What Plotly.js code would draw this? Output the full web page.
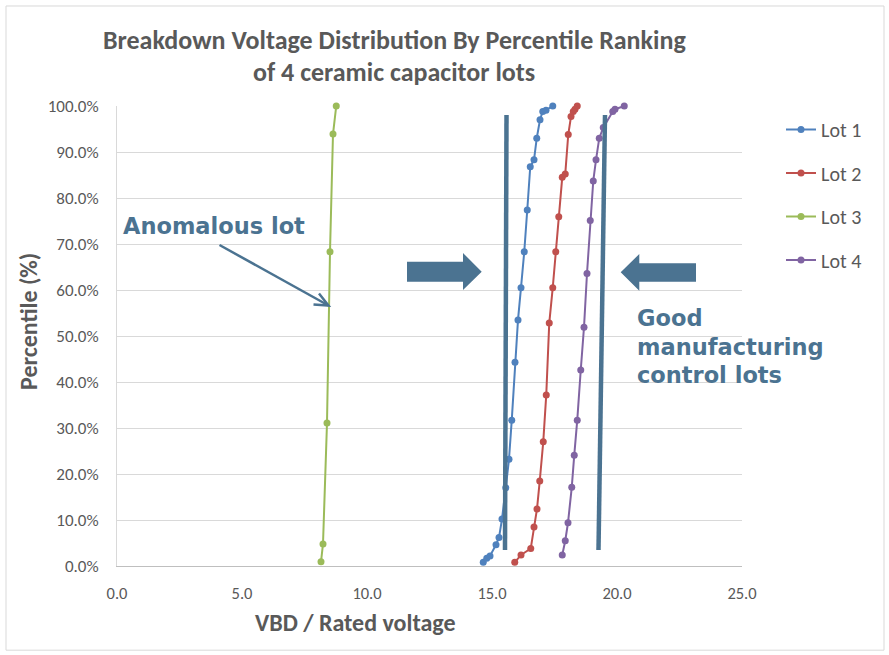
<!DOCTYPE html>
<html>
<head>
<meta charset="utf-8">
<script src="https://cdn.plot.ly/plotly-3.0.1.min.js"></script>
<style>html,body{margin:0;padding:0;background:#fff;}#chart{width:889px;height:655px;}</style>
</head>
<body>
<div id="chart"></div>
<script>
// ---- data (x = VBD / rated voltage, y = percentile %) ----
const seriesNames = ["Lot 1", "Lot 2", "Lot 3", "Lot 4"];
const lot1X = [14.65,14.79,14.92,15.16,15.28,15.40,15.55,15.68,15.79,15.92,16.04,16.16,16.29,16.41,16.53,16.68,16.79,16.92,17.03,17.16,17.43];
const lot1Y = [0.8,1.7,2.2,4.6,6.2,10.2,17.0,23.2,31.7,44.3,53.5,60.5,68.3,77.4,86.8,88.3,93.0,97.0,98.8,99.1,100];
const lot2X = [15.91,16.16,16.55,16.68,16.80,16.91,17.05,17.17,17.29,17.43,17.55,17.67,17.81,17.93,18.05,18.16,18.25,18.32,18.41];
const lot2Y = [0.8,2.4,3.8,8.5,12.4,18.5,27.0,37.2,52.8,60.5,68.3,75.9,84.5,85.2,93.8,97.7,98.8,99.3,100];
const lot3X = [8.16,8.24,8.40,8.52,8.64,8.77];
const lot3Y = [0.9,4.8,31.1,68.3,93.9,100];
const lot4X = [17.81,17.93,18.04,18.19,18.29,18.41,18.55,18.68,18.80,18.93,19.05,19.16,19.29,19.45,19.83,19.92,20.29];
const lot4Y = [2.4,5.5,9.4,17.1,24.1,31.7,42.6,51.9,63.6,75.1,83.7,88.3,93.0,95.3,98.8,99.3,100];
const xTicks = [0,5,10,15,20,25];
const xTickLabels = ["0.0","5.0","10.0","15.0","20.0","25.0"];
const yTicks = [0,10,20,30,40,50,60,70,80,90,100];
const yTickLabels = ["0.0%","10.0%","20.0%","30.0%","40.0%","50.0%","60.0%","70.0%","80.0%","90.0%","100.0%"];

const colors = ["#4F81BD", "#C0504D", "#9BBB59", "#8064A2"];
const xs = [lot1X, lot2X, lot3X, lot4X];
const ys = [lot1Y, lot2Y, lot3Y, lot4Y];

const FONT = "Calibri, Lato, 'Liberation Sans', sans-serif";
const NOTE = "#4B7391";

const traces = seriesNames.map((n, i) => ({
  type: "scatter", mode: "lines+markers", name: n,
  x: xs[i], y: ys[i], legendgroup: "g" + i,
  line: {color: colors[i], width: 2},
  marker: {color: colors[i], size: 7},
  cliponaxis: false
}));

// helpers converting pixel positions of the decorations to axis units
const px = v => (v - 117) / 25;
const py = v => (566 - v) / 4.6;

function path(pts) {
  return "M" + pts.map(p => px(p[0]) + "," + py(p[1])).join(" L") + " Z";
}

const shapes = [
  {type: "rect", xref: "paper", yref: "paper", x0: -0.1776, x1: 1.2272, y0: -0.183, y1: 1.2174,
   line: {color: "#d9d9d9", width: 1}, layer: "below"},
  {type: "line", xref: "x", yref: "y", x0: px(506.5), y0: py(115), x1: px(505), y1: py(550),
   line: {color: NOTE, width: 4.5}},
  {type: "line", xref: "x", yref: "y", x0: px(605), y0: py(115), x1: px(598.5), y1: py(550),
   line: {color: NOTE, width: 4.5}},
  {type: "path", xref: "x", yref: "y",
   path: path([[407,261.7],[463,261.7],[463,253],[481.7,271.7],[463,290],[463,281.7],[407,281.7]]),
   fillcolor: NOTE, line: {width: 0}},
  {type: "path", xref: "x", yref: "y",
   path: path([[696,263.3],[639.3,263.3],[639.3,254],[620.7,272.3],[639.3,290.7],[639.3,281.7],[696,281.7]]),
   fillcolor: NOTE, line: {width: 0}},
  {type: "line", xref: "x", yref: "y", x0: px(219.5), y0: py(245), x1: px(328.5), y1: py(305.5),
   line: {color: NOTE, width: 2.5}},
  {type: "path", xref: "x", yref: "y",
   path: "M" + px(313.5) + "," + py(304.5) + " L" + px(328.5) + "," + py(305.5) + " L" + px(319) + "," + py(293.5),
   line: {color: NOTE, width: 2.5}}
];

const annotations = [
  {xref: "paper", yref: "paper", x: (394 - 117) / 625, y: (566 - 40) / 460, text: "Breakdown Voltage Distribution By Percentile Ranking",
   showarrow: false, xanchor: "center", yanchor: "middle", font: {family: FONT, size: 26, color: "#595959", weight: "bold"}},
  {xref: "paper", yref: "paper", x: (394 - 117) / 625, y: (566 - 72) / 460, text: "of 4 ceramic capacitor lots",
   showarrow: false, xanchor: "center", yanchor: "middle", font: {family: FONT, size: 26, color: "#595959", weight: "bold"}},
  {xref: "paper", yref: "paper", x: (355 - 117) / 625, y: (566 - 622) / 460, text: "VBD / Rated voltage",
   showarrow: false, xanchor: "center", yanchor: "middle", font: {family: FONT, size: 24, color: "#595959", weight: "bold"}},
  {xref: "paper", yref: "paper", x: (28 - 117) / 625, y: (566 - 322) / 460, text: "Percentile (%)", textangle: -90,
   showarrow: false, xanchor: "center", yanchor: "middle", font: {family: FONT, size: 24, color: "#595959", weight: "bold"}},
  {xref: "paper", yref: "paper", x: (121 - 117) / 625, y: (566 - 226) / 460, text: "Anomalous lot",
   showarrow: false, xanchor: "left", yanchor: "middle", font: {family: "DejaVu Sans", size: 22.5, color: NOTE, weight: "bold"}},
  {xref: "paper", yref: "paper", x: (635 - 117) / 625, y: (566 - 318) / 460, text: "Good",
   showarrow: false, xanchor: "left", yanchor: "middle", font: {family: "DejaVu Sans", size: 22.5, color: NOTE, weight: "bold"}},
  {xref: "paper", yref: "paper", x: (635 - 117) / 625, y: (566 - 347) / 460, text: "manufacturing",
   showarrow: false, xanchor: "left", yanchor: "middle", font: {family: "DejaVu Sans", size: 22.5, color: NOTE, weight: "bold"}},
  {xref: "paper", yref: "paper", x: (635 - 117) / 625, y: (566 - 375) / 460, text: "control lots",
   showarrow: false, xanchor: "left", yanchor: "middle", font: {family: "DejaVu Sans", size: 22.5, color: NOTE, weight: "bold"}}
];

const layout = {
  width: 889, height: 655,
  margin: {l: 117, r: 147, t: 106, b: 89},
  paper_bgcolor: "#fff", plot_bgcolor: "#fff",
  font: {family: FONT, color: "#595959", size: 14},
  showlegend: true,
  legend: {x: (781 - 117) / 625, y: (566 - 110) / 460, xanchor: "left", yanchor: "top",
           font: {family: FONT, size: 20, color: "#595959"}, itemwidth: 30,
           traceorder: "grouped", tracegroupgap: 14.5, bgcolor: "rgba(0,0,0,0)"},
  xaxis: {range: [0, 25], tickmode: "array", tickvals: xTicks, ticktext: xTickLabels, showgrid: false, zeroline: false,
          showline: true, linecolor: "#bfbfbf", linewidth: 1, ticks: "", ticklabelstandoff: 12,
          tickfont: {family: FONT, size: 16.5, color: "#595959"}},
  yaxis: {range: [0, 100], tickmode: "array", tickvals: yTicks, ticktext: yTickLabels, showgrid: true,
          gridcolor: "#d9d9d9", gridwidth: 1, zeroline: false, showline: true, linecolor: "#d9d9d9",
          ticks: "", ticklabelstandoff: 14, tickfont: {family: FONT, size: 17, color: "#595959"}},
  shapes: shapes,
  annotations: annotations
};

Plotly.newPlot("chart", traces, layout, {displayModeBar: false, staticPlot: true});
</script>
</body>
</html>
